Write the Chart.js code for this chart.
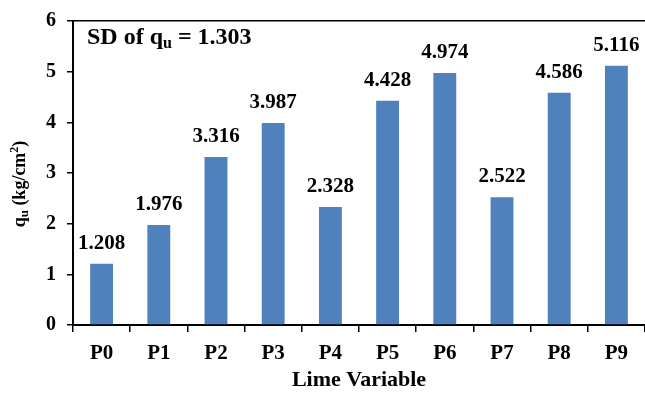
<!DOCTYPE html>
<html>
<head>
<meta charset="utf-8">
<script src="https://cdn.jsdelivr.net/npm/chart.js@4"></script>
<style>
  html, body { margin: 0; padding: 0; background: #fff; }
  #wrap { width: 645px; height: 394px; }
</style>
</head>
<body>
<div id="wrap"><canvas id="chart" width="645" height="394"></canvas></div>
<script>
// Unconfined compressive strength for each lime mix
const categories = ['P0', 'P1', 'P2', 'P3', 'P4', 'P5', 'P6', 'P7', 'P8', 'P9'];
const quValues = [1.208, 1.976, 3.316, 3.987, 2.328, 4.428, 4.974, 2.522, 4.586, 5.116];
const yTicks = [0, 1, 2, 3, 4, 5, 6];
const sdOfQu = 1.303;
const xTitle = 'Lime Variable';

const SERIF = "'Liberation Serif', 'Times New Roman', serif";
const BAR_BLUE = '#4f81bd';

// Value labels above each bar
const barLabels = {
  id: 'barLabels',
  afterDatasetsDraw(chart) {
    const ctx = chart.ctx;
    const meta = chart.getDatasetMeta(0);
    ctx.save();
    ctx.font = 'bold 21px ' + SERIF;
    ctx.fillStyle = '#000';
    ctx.textAlign = 'center';
    ctx.textBaseline = 'alphabetic';
    meta.data.forEach((bar, i) => {
      ctx.fillText(quValues[i].toFixed(3), bar.x, bar.y - 15);
    });
    ctx.restore();
  }
};

// Draws a run of text pieces, some lowered (subscript) or raised (superscript)
function drawRuns(ctx, runs, x, y) {
  let cx = x;
  runs.forEach(r => {
    ctx.font = 'bold ' + r.size + 'px ' + SERIF;
    ctx.fillText(r.text, cx, y + (r.dy || 0));
    cx += ctx.measureText(r.text).width;
  });
  return cx - x;
}
function runsWidth(ctx, runs) {
  let w = 0;
  runs.forEach(r => {
    ctx.font = 'bold ' + r.size + 'px ' + SERIF;
    w += ctx.measureText(r.text).width;
  });
  return w;
}

// In-plot annotation and the rotated y-axis title with sub/superscripts
const annotations = {
  id: 'annotations',
  afterDraw(chart) {
    const ctx = chart.ctx;
    const area = chart.chartArea;
    ctx.save();
    ctx.fillStyle = '#000';
    ctx.textAlign = 'left';
    ctx.textBaseline = 'alphabetic';
    drawRuns(ctx, [
      { text: 'SD of q', size: 24 },
      { text: 'u', size: 16, dy: 4 },
      { text: ' = ' + sdOfQu.toFixed(3), size: 24 }
    ], area.left + 14, 44);

    const yRuns = [
      { text: 'q', size: 18 },
      { text: 'u', size: 13, dy: 3 },
      { text: ' (kg/cm', size: 18 },
      { text: '2', size: 12, dy: -7 },
      { text: ')', size: 18 }
    ];
    const w = runsWidth(ctx, yRuns);
    ctx.translate(25, 184);
    ctx.rotate(-Math.PI / 2);
    drawRuns(ctx, yRuns, -w / 2, 0);
    ctx.restore();
  }
};

new Chart(document.getElementById('chart'), {
  type: 'bar',
  data: {
    labels: categories,
    datasets: [{
      data: quValues,
      backgroundColor: BAR_BLUE,
      borderWidth: 0,
      categoryPercentage: 1.0,
      barPercentage: 0.4
    }]
  },
  options: {
    responsive: false,
    animation: false,
    devicePixelRatio: 1,
    layout: { padding: { top: 20, right: 0, left: 0, bottom: 0 } },
    plugins: {
      legend: { display: false },
      tooltip: { enabled: false }
    },
    scales: {
      x: {
        grid: {
          offset: true,
          drawOnChartArea: false,
          tickColor: '#000',
          tickLength: 7,
          lineWidth: 1.5
        },
        border: { color: '#000', width: 2 },
        ticks: {
          color: '#000',
          padding: 9,
          font: { family: SERIF, size: 21, weight: 'bold' }
        },
        title: {
          display: true,
          text: xTitle,
          color: '#000',
          padding: { top: 0, bottom: 0 },
          font: { family: SERIF, size: 22, weight: 'bold' }
        },
        afterFit(scale) { scale.height = 69; }
      },
      y: {
        min: 0,
        max: 6,
        afterBuildTicks(scale) { scale.ticks = yTicks.map(v => ({ value: v })); },
        grid: {
          color: c => (c.tick && c.tick.value === 6 ? '#000' : 'rgba(0,0,0,0)'),
          tickColor: '#000',
          tickLength: 6,
          lineWidth: 1.5
        },
        border: { color: '#000', width: 2 },
        ticks: {
          color: '#000',
          padding: 11,
          font: { family: SERIF, size: 20, weight: 'bold', lineHeight: 1 }
        },
        afterFit(scale) { scale.width = 73; }
      }
    }
  },
  plugins: [barLabels, annotations]
});
</script>
</body>
</html>
